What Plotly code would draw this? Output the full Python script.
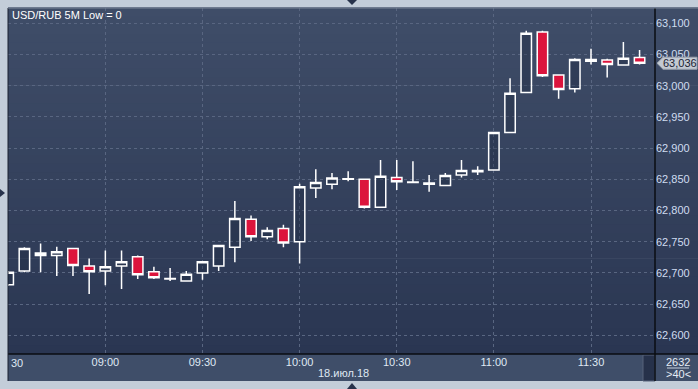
import plotly.graph_objects as go

# ---------------- data ----------------
times = ["2018-07-18 08:30", "2018-07-18 08:35", "2018-07-18 08:40", "2018-07-18 08:45",
         "2018-07-18 08:50", "2018-07-18 08:55", "2018-07-18 09:00", "2018-07-18 09:05",
         "2018-07-18 09:10", "2018-07-18 09:15", "2018-07-18 09:20", "2018-07-18 09:25",
         "2018-07-18 09:30", "2018-07-18 09:35", "2018-07-18 09:40", "2018-07-18 09:45",
         "2018-07-18 09:50", "2018-07-18 09:55", "2018-07-18 10:00", "2018-07-18 10:05",
         "2018-07-18 10:10", "2018-07-18 10:15", "2018-07-18 10:20", "2018-07-18 10:25",
         "2018-07-18 10:30", "2018-07-18 10:35", "2018-07-18 10:40", "2018-07-18 10:45",
         "2018-07-18 10:50", "2018-07-18 10:55", "2018-07-18 11:00", "2018-07-18 11:05",
         "2018-07-18 11:10", "2018-07-18 11:15", "2018-07-18 11:20", "2018-07-18 11:25",
         "2018-07-18 11:30", "2018-07-18 11:35", "2018-07-18 11:40", "2018-07-18 11:45"]
opens = [62.681, 62.703, 62.732, 62.728, 62.739, 62.711, 62.703, 62.711, 62.726, 62.702,
         62.690, 62.687, 62.700, 62.711, 62.741, 62.786, 62.758, 62.771, 62.750, 62.836,
         62.842, 62.850, 62.850, 62.805, 62.853, 62.845, 62.842, 62.840, 62.857, 62.862,
         62.865, 62.925, 62.989, 63.086, 63.017, 62.995, 63.042, 63.041, 63.033, 63.045]
highs = [62.703, 62.741, 62.747, 62.742, 62.739, 62.723, 62.736, 62.736, 62.728, 62.710,
         62.708, 62.703, 62.718, 62.744, 62.815, 62.792, 62.773, 62.777, 62.843, 62.866,
         62.860, 62.863, 62.851, 62.881, 62.881, 62.879, 62.857, 62.860, 62.881, 62.871,
         62.925, 63.012, 63.088, 63.088, 63.017, 63.044, 63.059, 63.043, 63.070, 63.057]
lows = [62.679, 62.701, 62.701, 62.695, 62.695, 62.666, 62.680, 62.674, 62.690, 62.690,
        62.687, 62.686, 62.689, 62.703, 62.717, 62.751, 62.754, 62.741, 62.715, 62.820,
        62.834, 62.847, 62.803, 62.805, 62.833, 62.844, 62.830, 62.840, 62.853, 62.857,
        62.865, 62.925, 62.989, 63.014, 62.979, 62.989, 63.034, 63.013, 63.033, 63.034]
closes = [62.701, 62.739, 62.728, 62.734, 62.712, 62.702, 62.710, 62.718, 62.697, 62.692,
          62.691, 62.698, 62.718, 62.744, 62.787, 62.758, 62.768, 62.748, 62.838, 62.845,
          62.852, 62.851, 62.805, 62.855, 62.846, 62.8455, 62.844, 62.856, 62.864, 62.864,
          62.925, 62.988, 63.084, 63.016, 62.994, 63.042, 63.039, 63.034, 63.044, 63.036]

x_tickvals = ["2018-07-18 09:00", "2018-07-18 09:30", "2018-07-18 10:00",
              "2018-07-18 10:30", "2018-07-18 11:00", "2018-07-18 11:30"]
x_ticktext = ["09:00", "09:30", "10:00", "10:30", "11:00", "11:30"]
y_tickvals = [62.60, 62.65, 62.70, 62.75, 62.80, 62.85, 62.90, 62.95, 63.00, 63.05, 63.10]
y_ticktext = ["62,600", "62,650", "62,700", "62,750", "62,800", "62,850",
              "62,900", "62,950", "63,000", "63,050", "63,100"]
title_text = "USD/RUB 5M Low = 0"
date_text = "18.июл.18"
corner_top = "2632"
corner_bottom = ">40<"
last_text = "63,036"

# ---------------- layout constants ----------------
W, H = 698, 389
ML, MR, MT, MB = 8, 43, 8, 35
PW = W - ML - MR
PH = H - MT - MB


def px_x(x):
    return (x - ML) / PW


def px_y(y):
    return (H - MB - y) / PH


FONT = "Arial, Liberation Sans, sans-serif"

fig = go.Figure()
fig.add_trace(go.Candlestick(
    x=times, open=opens, high=highs, low=lows, close=closes,
    increasing=dict(line=dict(color="#ffffff", width=1.5), fillcolor="rgba(30,40,62,0.35)"),
    decreasing=dict(line=dict(color="#ffffff", width=1.5), fillcolor="#dc143c"),
    whiskerwidth=0, hoverinfo="skip", showlegend=False,
))

shapes = []
# gradient background (plot + right axis area)
top_c = (63, 77, 104)
bot_c = (42, 54, 82)
N = 40
for i in range(N):
    t = i / (N - 1)
    c = tuple(round(bot_c[k] + (top_c[k] - bot_c[k]) * t) for k in range(3))
    shapes.append(dict(type="rect", xref="paper", yref="paper",
                       x0=0, x1=px_x(W + 2), y0=i / N, y1=(i + 1) / N + 0.002,
                       fillcolor="rgb(%d,%d,%d)" % c, line=dict(width=0), layer="below"))
# bottom axis band
shapes.append(dict(type="rect", xref="paper", yref="paper",
                   x0=0, x1=px_x(W + 2), y0=px_y(381), y1=px_y(354),
                   fillcolor="#3f4e69", line=dict(width=0), layer="below"))
# scroll piece
shapes.append(dict(type="rect", xref="paper", yref="paper",
                   x0=px_x(643), x1=px_x(655), y0=px_y(381), y1=px_y(355),
                   fillcolor="#26314a", line=dict(color="#56627a", width=1), layer="below"))
# black separators
shapes.append(dict(type="line", xref="paper", yref="paper",
                   x0=0, x1=px_x(W + 2), y0=0, y1=0, line=dict(color="#0a0c12", width=1.5)))
shapes.append(dict(type="line", xref="paper", yref="paper",
                   x0=1, x1=1, y0=px_y(381), y1=1, line=dict(color="#0a0c12", width=1.5)))
shapes.append(dict(type="line", xref="paper", yref="paper",
                   x0=0, x1=0, y0=px_y(381), y1=1, line=dict(color="#1a2030", width=1)))
shapes.append(dict(type="line", xref="paper", yref="paper",
                   x0=0, x1=px_x(W + 2), y0=1, y1=1, line=dict(color="#7d8898", width=1)))
# corner underline
shapes.append(dict(type="line", xref="paper", yref="paper",
                   x0=px_x(667), x1=px_x(689), y0=px_y(368), y1=px_y(368),
                   line=dict(color="#c8d2e0", width=1)))
# last price tag
last = closes[-1]
dy = 6 / 624
path = "M %f,%f L %f,%f L %f,%f L %f,%f L %f,%f Z" % (
    px_x(657), last,
    px_x(663), last + dy,
    px_x(697), last + dy,
    px_x(697), last - dy,
    px_x(663), last - dy)
shapes.append(dict(type="path", xref="paper", yref="y", path=path,
                   fillcolor="#c3cad3", line=dict(color="#9aa3ae", width=1)))
# small frame arrows
def tri(pts):
    p = "M " + " L ".join("%f,%f" % (px_x(a), px_y(b)) for a, b in pts) + " Z"
    return dict(type="path", xref="paper", yref="paper", path=p,
                fillcolor="#27324b", line=dict(width=0))

shapes.append(tri([(347, 0), (357, 0), (352, 5)]))
shapes.append(tri([(0, 189), (0, 197), (5, 193)]))
shapes.append(tri([(347, 389), (357, 389), (352, 383)]))

annotations = [
    dict(text=title_text, xref="paper", yref="paper", x=px_x(10), y=px_y(15),
         xanchor="left", yanchor="middle", showarrow=False,
         font=dict(family=FONT, size=11, color="#ffffff")),
    dict(text=date_text, xref="paper", yref="paper", x=px_x(343), y=px_y(373),
         xanchor="center", yanchor="middle", showarrow=False,
         font=dict(family=FONT, size=11, color="#dfe8f3")),
    dict(text="30", xref="paper", yref="paper", x=px_x(9), y=px_y(363),
         xanchor="left", yanchor="middle", showarrow=False,
         font=dict(family=FONT, size=11, color="#dfe8f3")),
    dict(text=corner_top, xref="paper", yref="paper", x=px_x(678), y=px_y(362),
         xanchor="center", yanchor="middle", showarrow=False,
         font=dict(family=FONT, size=11, color="#e6edf6")),
    dict(text=corner_bottom, xref="paper", yref="paper", x=px_x(678), y=px_y(374),
         xanchor="center", yanchor="middle", showarrow=False,
         font=dict(family=FONT, size=11, color="#e6edf6")),
    dict(text=last_text, xref="paper", yref="y", x=px_x(680), y=last,
         xanchor="center", yanchor="middle", showarrow=False,
         font=dict(family=FONT, size=11, color="#1c2333")),
]

fig.update_layout(
    width=W, height=H,
    margin=dict(l=ML, r=MR, t=MT, b=MB, pad=0),
    paper_bgcolor="#c3cdd9",
    plot_bgcolor="rgba(0,0,0,0)",
    boxgap=0.08,
    shapes=shapes,
    annotations=annotations,
    showlegend=False,
    xaxis=dict(
        type="date",
        range=["2018-07-18 08:29:56", "2018-07-18 11:49:46"],
        tickvals=x_tickvals, ticktext=x_ticktext,
        showgrid=True, gridcolor="#596681", griddash="3px,3px", gridwidth=1,
        ticks="", showline=False, zeroline=False,
        tickfont=dict(family=FONT, size=11, color="#dfe8f3"),
        rangeslider=dict(visible=False),
        fixedrange=True,
    ),
    yaxis=dict(
        side="right",
        range=[62.570, 63.1245],
        tickvals=y_tickvals, ticktext=y_ticktext,
        showgrid=True, gridcolor="#596681", griddash="3px,3px", gridwidth=1,
        ticks="", showline=False, zeroline=False,
        tickfont=dict(family=FONT, size=11, color="#cfdcf0"),
        fixedrange=True,
    ),
)

fig.write_html("out.html")
